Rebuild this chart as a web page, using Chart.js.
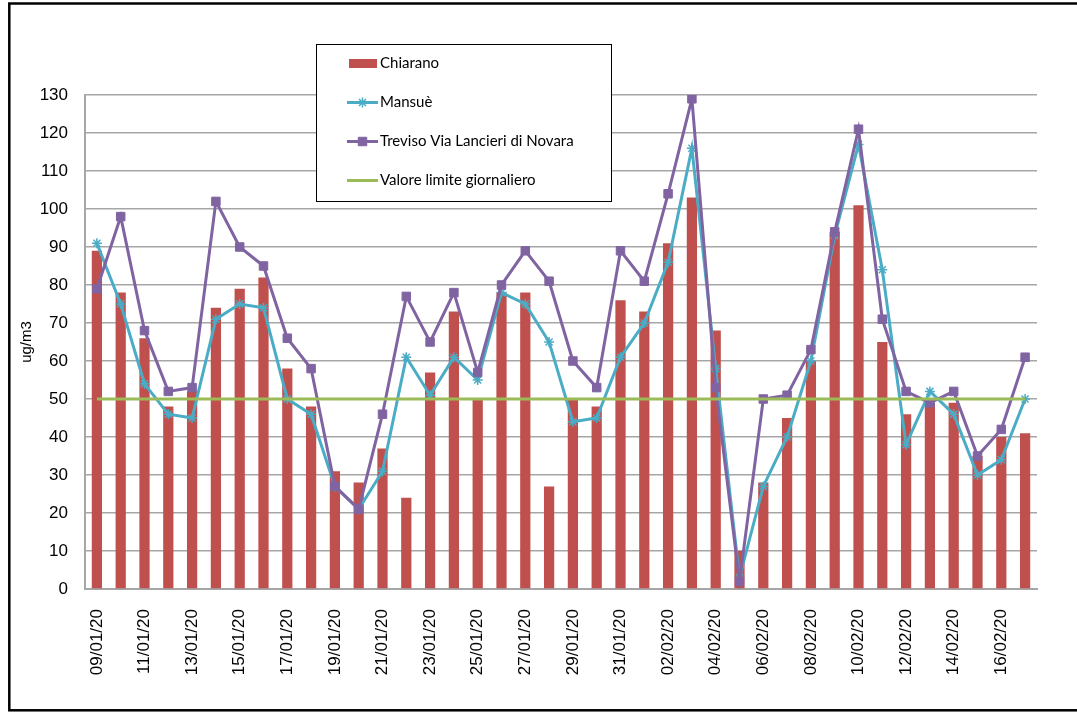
<!DOCTYPE html>
<html>
<head>
<meta charset="utf-8">
<script src="https://cdn.jsdelivr.net/npm/chart.js@4/dist/chart.umd.min.js"></script>
<style>
  html, body { margin: 0; padding: 0; background: #fff; }
  canvas { display: block; }
</style>
</head>
<body>
<canvas id="myChart" width="1077" height="713"></canvas>
<script>
const dates = [
  "09/01/20", "10/01/20", "11/01/20", "12/01/20", "13/01/20", "14/01/20", "15/01/20", "16/01/20",
  "17/01/20", "18/01/20", "19/01/20", "20/01/20", "21/01/20", "22/01/20", "23/01/20", "24/01/20",
  "25/01/20", "26/01/20", "27/01/20", "28/01/20", "29/01/20", "30/01/20", "31/01/20", "01/02/20",
  "02/02/20", "03/02/20", "04/02/20", "05/02/20", "06/02/20", "07/02/20", "08/02/20", "09/02/20",
  "10/02/20", "11/02/20", "12/02/20", "13/02/20", "14/02/20", "15/02/20", "16/02/20", "17/02/20"
];
const chiarano = [89, 78, 66, 48, 52, 74, 79, 82, 58, 48, 31, 28, 37, 24, 57, 73, 50, 78, 78, 27,
  50, 48, 76, 73, 91, 103, 68, 10, 28, 45, 60, 94, 101, 65, 46, 49, 49, 35, 40, 41];
const mansue = [91, 75, 54, 46, 45, 71, 75, 74, 50, 46, 27, 21, 31, 61, 51, 61, 55, 78, 75, 65,
  44, 45, 61, 70, 86, 116, 58, 3, 27, 40, 60, 93, 117, 84, 38, 52, 46, 30, 34, 50];
const treviso = [79, 98, 68, 52, 53, 102, 90, 85, 66, 58, 27, 21, 46, 77, 65, 78, 57, 80, 89, 81,
  60, 53, 89, 81, 104, 129, 53, 2, 50, 51, 63, 94, 121, 71, 52, 49, 52, 35, 42, 61];
const limite = [50, 50, 50, 50, 50, 50, 50, 50, 50, 50, 50, 50, 50, 50, 50, 50, 50, 50, 50, 50,
  50, 50, 50, 50, 50, 50, 50, 50, 50, 50, 50, 50, 50, 50, 50, 50, 50, 50, 50, 50];
const yTicks = { min: 0, max: 130, step: 10 };

const RED = "#C0504D", CYAN = "#4BACC6", PURPLE = "#8064A2", GREEN = "#9BBB59";
const GRID = "#A6A6A6";

// legend box, y title and outer frame, drawn like the Excel export
const extras = {
  id: "extras",
  afterDraw(chart) {
    const ctx = chart.ctx;
    ctx.save();

    // y title
    ctx.fillStyle = "#000";
    ctx.font = "15px 'Liberation Sans', Arial, sans-serif";
    ctx.textAlign = "center";
    ctx.textBaseline = "middle";
    ctx.translate(27, 342);
    ctx.rotate(-Math.PI / 2);
    ctx.fillText("ug/m3", 0, 0);
    ctx.setTransform(1, 0, 0, 1, 0, 0);

    // legend
    const bx = 316, by = 44, bw = 295, bh = 157;
    ctx.fillStyle = "#fff";
    ctx.fillRect(bx, by, bw, bh);
    ctx.strokeStyle = "#000";
    ctx.lineWidth = 1;
    ctx.strokeRect(bx + 0.5, by + 0.5, bw, bh);

    const items = chart.data.datasets;
    const rowY = [63.5, 102.5, 141.5, 180.5];
    ctx.font = "15px Lato, 'Open Sans', sans-serif";
    ctx.textAlign = "left";
    ctx.textBaseline = "middle";
    items.forEach((ds, k) => {
      const y = rowY[k];
      if (ds.type === "bar") {
        ctx.fillStyle = ds.backgroundColor;
        ctx.fillRect(349, y - 4.5, 28, 9);
      } else {
        ctx.strokeStyle = ds.borderColor;
        ctx.lineWidth = 3;
        ctx.beginPath();
        ctx.moveTo(347, y);
        ctx.lineTo(378, y);
        ctx.stroke();
        if (ds.pointRadius > 0) {
          ctx.fillStyle = ds.pointBackgroundColor;
          ctx.strokeStyle = ds.pointBorderColor;
          ctx.lineWidth = ds.pointBorderWidth;
          Chart.helpers.drawPoint(ctx, {
            pointStyle: ds.pointStyle,
            radius: ds.pointRadius,
            borderWidth: ds.pointBorderWidth
          }, 362.5, y);
        }
      }
      ctx.fillStyle = "#000";
      ctx.fillText(ds.label, 380, y);
    });

    // outer frame
    ctx.strokeStyle = "#000";
    ctx.lineWidth = 2.5;
    ctx.strokeRect(9.3, 3.5, 1080, 706.8);
    ctx.restore();
  }
};

const ctx = document.getElementById("myChart").getContext("2d");
new Chart(ctx, {
  data: {
    labels: dates,
    datasets: [
      {
        type: "bar",
        label: "Chiarano",
        data: chiarano,
        backgroundColor: RED,
        barPercentage: 0.43,
        categoryPercentage: 1,
        order: 4
      },
      {
        type: "line",
        label: "Mansuè",
        data: mansue,
        borderColor: CYAN,
        borderWidth: 3,
        pointStyle: "star",
        pointRadius: 5,
        pointBorderWidth: 1.5,
        pointBorderColor: CYAN,
        pointBackgroundColor: CYAN,
        tension: 0,
        order: 3
      },
      {
        type: "line",
        label: "Treviso Via Lancieri di Novara",
        data: treviso,
        borderColor: PURPLE,
        borderWidth: 3,
        pointStyle: "rect",
        pointRadius: 6,
        pointBorderWidth: 1,
        pointBorderColor: PURPLE,
        pointBackgroundColor: PURPLE,
        tension: 0,
        order: 2
      },
      {
        type: "line",
        label: "Valore limite giornaliero",
        data: limite,
        borderColor: GREEN,
        borderWidth: 3,
        pointRadius: 0,
        tension: 0,
        order: 1
      }
    ]
  },
  options: {
    responsive: false,
    animation: false,
    layout: { padding: { left: 0, top: 95, right: 40, bottom: 0 } },
    plugins: {
      legend: { display: false },
      tooltip: { enabled: false }
    },
    scales: {
      x: {
        grid: { display: false },
        border: { display: true, color: GRID, width: 2 },
        ticks: {
          autoSkip: false,
          minRotation: 90,
          maxRotation: 90,
          padding: 12,
          color: "#000",
          font: { family: "'Liberation Sans', Arial, sans-serif", size: 17 },
          callback: function (v, i) {
            return i % 2 === 0 ? this.getLabelForValue(v) : "";
          }
        },
        afterFit(scale) { scale.height = 124; }
      },
      y: {
        min: yTicks.min,
        max: yTicks.max,
        grid: { color: GRID, lineWidth: 1.5, drawTicks: false },
        border: { display: true, color: GRID, width: 2 },
        ticks: {
          stepSize: yTicks.step,
          padding: 17,
          color: "#000",
          font: { family: "'Liberation Sans', Arial, sans-serif", size: 17 }
        },
        afterFit(scale) { scale.width = 85; }
      }
    }
  },
  plugins: [extras]
});
</script>
</body>
</html>
